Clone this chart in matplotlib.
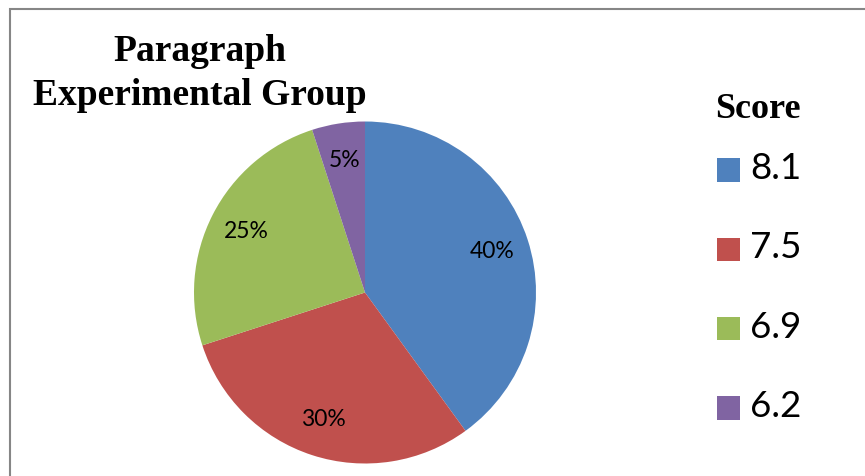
import matplotlib
matplotlib.use("Agg")
import matplotlib.pyplot as plt
from matplotlib.patches import Rectangle

# Data
scores = ["8.1", "7.5", "6.9", "6.2"]
shares = [40, 30, 25, 5]
colors = ["#4F81BD", "#C0504D", "#9BBB59", "#8064A2"]
title_lines = ["Paragraph", "Experimental Group"]
legend_title = "Score"

W, H = 865, 476
fig = plt.figure(figsize=(W / 100, H / 100), dpi=100)
fig.patch.set_facecolor("white")

def fx(px):
    return px / W

def fy(py):
    return 1 - py / H

# Chart frame (top and left edges visible)
fig.patches.append(Rectangle((fx(9.5), fy(490)), fx(900), fy(9.5) - fy(490),
                             transform=fig.transFigure, fill=False,
                             edgecolor="#868686", linewidth=1.5, clip_on=False))

# Pie
cx, cy, r = 365, 292.5, 171
ax = fig.add_axes([fx(cx - r), fy(cy + r), fx(2 * r), (2 * r) / H])
wedges, texts, autotexts = ax.pie(
    shares, colors=colors, startangle=90, counterclock=False,
    autopct=lambda p: f"{p:.0f}%", pctdistance=0.78,
    wedgeprops=dict(linewidth=0),
    textprops=dict(family="Lato", fontsize=16.5, color="black"))
ax.set_xlim(-1, 1)
ax.set_ylim(-1, 1)
ax.axis("off")

# Title
serif = "Liberation Serif"
fig.text(fx(200), fy(61), title_lines[0], ha="center", va="baseline",
         family=serif, fontweight="bold", fontsize=27)
fig.text(fx(200), fy(105), title_lines[1], ha="center", va="baseline",
         family=serif, fontweight="bold", fontsize=27)

# Legend
fig.text(fx(715), fy(118.5), legend_title, ha="left", va="baseline",
         family=serif, fontweight="bold", fontsize=26)
sq = 23.5
for i, (lab, col) in enumerate(zip(scores, colors)):
    yc = 170 + 79.3 * i
    fig.patches.append(Rectangle((fx(716.5), fy(yc + sq / 2)), fx(sq), sq / H,
                                 transform=fig.transFigure, facecolor=col,
                                 edgecolor="none"))
    fig.text(fx(750), fy(yc + 9), lab, ha="left", va="baseline",
             family="Lato", fontsize=26.5, color="black")

fig.savefig("out.png", dpi=100)
